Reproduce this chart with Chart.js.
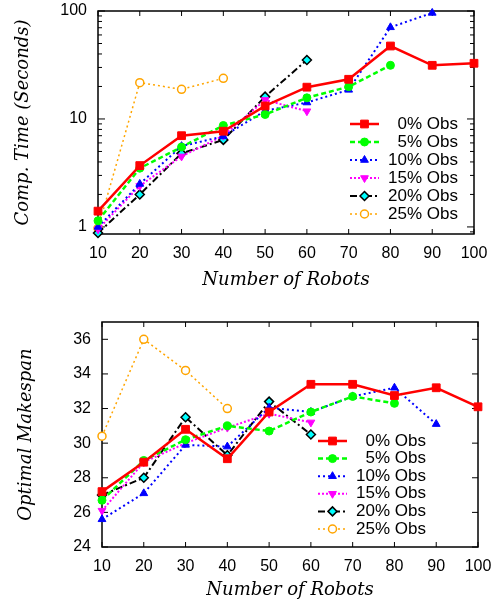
<!DOCTYPE html>
<html>
<head>
<meta charset="utf-8">
<script src="https://cdn.jsdelivr.net/npm/chart.js@4.4.0/dist/chart.umd.min.js"></script>
<style>
  html, body { margin:0; padding:0; background:#fff; }
  canvas { display:block; }
</style>
</head>
<body>
<canvas id="timeChart" width="502" height="300"></canvas>
<canvas id="spanChart" width="502" height="303"></canvas>
<script>
const robots = [10, 20, 30, 40, 50, 60, 70, 80, 90, 100];
const seriesNames = ['0% Obs', '5% Obs', '10% Obs', '15% Obs', '20% Obs', '25% Obs'];

// computation time in seconds (log axis)
const time0  = [1.4, 3.7, 7.0, 7.7, 13.2, 19.7, 23.3, 47.4, 31.4, 32.8];
const time5  = [1.14, 3.5, 5.5, 8.7, 11.0, 15.7, 19.9, 31.4];
const time10 = [1.0, 2.5, 5.6, 6.9, 11.9, 14.2, 18.6, 70.6, 96];
const time15 = [0.95, 2.4, 4.5, 7.0, 15.0, 11.8];
const time20 = [0.88, 2.0, 4.8, 6.4, 16.1, 35.2];
const time25 = [0.97, 21.7, 18.8, 23.8];
const timeLabels = [1, 10, 100];
const timeMinor = [0.9, 2, 3, 4, 5, 6, 7, 8, 9, 20, 30, 40, 50, 60, 70, 80, 90];

// optimal makespan
const span0  = [27.2, 28.9, 30.8, 29.1, 31.8, 33.4, 33.4, 32.75, 33.2, 32.1];
const span5  = [26.7, 29.0, 30.2, 31.0, 30.7, 31.8, 32.7, 32.3];
const span10 = [25.6, 27.1, 29.9, 29.8, 32.05, 31.8, 32.7, 33.2, 31.1];
const span15 = [26.1, 28.9, 30.0, 30.9, 31.7, 31.2];
const span20 = [27.0, 28.0, 31.5, 29.3, 32.4, 30.5];
const span25 = [30.4, 36.0, 34.2, 32.0];
const spanLabels = [24, 26, 28, 30, 32, 34, 36];

const looks = [
  {color:'#ff0000', fill:'#ff0000', dash:[],        point:'rect',     rot:0,   r:5.5, w:2.5, pb:1},
  {color:'#00ff00', fill:'#00ff00', dash:[5,3],     point:'circle',   rot:0,   r:4,   w:2.5, pb:1},
  {color:'#0000ff', fill:'#0000ff', dash:[2,3],     point:'triangle', rot:0,   r:4.5, w:2,   pb:1},
  {color:'#ff00ff', fill:'#ff00ff', dash:[2,2],     point:'triangle', rot:180, r:4.5, w:2,   pb:1},
  {color:'#000000', fill:'#00ffff', dash:[7,3,2,3], point:'rectRot',  rot:0,   r:4.5, w:2,   pb:1.5},
  {color:'#ffa500', fill:'#ffffff', dash:[2,3],     point:'circle',   rot:0,   r:4,   w:1.5, pb:1.5}
];

const tickFont = {family:'"Liberation Sans", Arial, sans-serif', size:16};
const titleFont = {family:'"DejaVu Serif", serif', style:'italic', size:18};

function makeSets(list) {
  return list.map((vals, i) => {
    let lk = looks[i];
    return {
      label: seriesNames[i],
      data: vals.map((v, j) => ({x: robots[j], y: v})),
      borderColor: lk.color,
      borderWidth: lk.w,
      borderDash: lk.dash,
      pointStyle: lk.point,
      pointRotation: lk.rot,
      pointRadius: lk.r,
      pointBackgroundColor: lk.fill,
      pointBorderColor: lk.color,
      pointBorderWidth: lk.pb,
      tension: 0,
      clip: false
    };
  });
}

// frame round the plot and gnuplot style ticks pointing inwards
const frameTicks = {
  id: 'frameTicks',
  beforeDatasetsDraw(chart, args, opts) {
    const {ctx, chartArea: a, scales} = chart;
    ctx.save();
    ctx.strokeStyle = '#000';
    ctx.lineWidth = 1;
    ctx.beginPath();
    scales.x.ticks.forEach(t => {
      const px = scales.x.getPixelForValue(t.value);
      ctx.moveTo(px, a.bottom); ctx.lineTo(px, a.bottom - opts.xLen);
      ctx.moveTo(px, a.top); ctx.lineTo(px, a.top + opts.xLen);
    });
    scales.y.ticks.forEach(t => {
      const py = scales.y.getPixelForValue(t.value);
      const len = t.label ? opts.yLen : opts.yMinor;
      ctx.moveTo(a.left, py); ctx.lineTo(a.left + len, py);
      ctx.moveTo(a.right, py); ctx.lineTo(a.right - len, py);
    });
    ctx.stroke();
    ctx.lineWidth = 1.5;
    ctx.strokeRect(a.left, a.top, a.width, a.height);
    ctx.restore();
  }
};

// legend inside the plot, line sample with marker, text aligned right
const insideLegend = {
  id: 'insideLegend',
  afterDatasetsDraw(chart, args, opts) {
    const {ctx, chartArea} = chart;
    ctx.save();
    ctx.font = '17px "Liberation Sans", Arial, sans-serif';
    ctx.textAlign = 'right';
    ctx.textBaseline = 'middle';
    chart.data.datasets.forEach((ds, i) => {
      const y = chartArea.top + opts.top + i * opts.step;
      const x0 = chartArea.right - opts.lineFrom;
      const x1 = chartArea.right - opts.lineTo;
      ctx.strokeStyle = ds.borderColor;
      ctx.lineWidth = ds.borderWidth;
      ctx.setLineDash(ds.borderDash);
      ctx.beginPath(); ctx.moveTo(x0, y); ctx.lineTo(x1, y); ctx.stroke();
      ctx.setLineDash([]);
      ctx.fillStyle = ds.pointBackgroundColor;
      ctx.strokeStyle = ds.pointBorderColor;
      ctx.lineWidth = ds.pointBorderWidth;
      Chart.helpers.drawPoint(ctx, {pointStyle: ds.pointStyle, rotation: ds.pointRotation,
        radius: ds.pointRadius, borderWidth: ds.pointBorderWidth}, (x0 + x1) / 2, y);
      ctx.fillStyle = '#000';
      ctx.fillText(ds.label, chartArea.right - opts.textRight, y);
    });
    ctx.restore();
  }
};

function xScale(h, pad, titlePad) {
  return {
    type: 'linear', min: 10, max: 100,
    afterBuildTicks: s => { s.ticks = robots.map(v => ({value: v})); },
    afterFit: s => { s.height = h; },
    grid: {display: false, drawTicks: false},
    border: {display: false},
    ticks: {font: tickFont, color: '#000', padding: pad, maxRotation: 0, autoSkip: false},
    title: {display: true, text: 'Number of Robots', font: titleFont, color: '#000',
            padding: {top: 0, bottom: titlePad}}
  };
}

new Chart(document.getElementById('timeChart'), {
  type: 'line',
  data: {datasets: makeSets([time0, time5, time10, time15, time20, time25])},
  options: {
    responsive: false,
    animation: false,
    layout: {padding: {top: 11, right: 28, bottom: 0, left: 0}},
    plugins: {
      legend: {display: false},
      tooltip: {enabled: false},
      frameTicks: {xLen: 5, yLen: 7, yMinor: 4},
      insideLegend: {top: 113, step: 18, lineFrom: 124, lineTo: 95, textRight: 16}
    },
    scales: {
      x: xScale(66, 10, 9),
      y: {
        type: 'logarithmic', min: 0.86, max: 100,
        afterBuildTicks: s => {
          s.ticks = timeLabels.concat(timeMinor).sort((a, b) => a - b).map(v => ({value: v}));
        },
        afterFit: s => { s.width = 98; },
        grid: {display: false, drawTicks: true, tickLength: 11},
        border: {display: false},
        ticks: {font: tickFont, color: '#000', padding: 0, autoSkip: false,
                callback: v => timeLabels.includes(v) ? String(v) : ''},
        title: {display: true, text: 'Comp. Time (Seconds)', font: titleFont, color: '#000',
                padding: {top: 13, bottom: 0}}
      }
    }
  },
  plugins: [frameTicks, insideLegend]
});

new Chart(document.getElementById('spanChart'), {
  type: 'line',
  data: {datasets: makeSets([span0, span5, span10, span15, span20, span25])},
  options: {
    responsive: false,
    animation: false,
    layout: {padding: {top: 22, right: 24, bottom: 0, left: 0}},
    plugins: {
      legend: {display: false},
      tooltip: {enabled: false},
      frameTicks: {xLen: 5, yLen: 6, yMinor: 6},
      insideLegend: {top: 119, step: 17.6, lineFrom: 160, lineTo: 131, textRight: 52}
    },
    scales: {
      x: xScale(56, 10, 2),
      y: {
        type: 'linear', min: 24, max: 37,
        afterBuildTicks: s => { s.ticks = spanLabels.map(v => ({value: v})); },
        afterFit: s => { s.width = 102; },
        grid: {display: false, drawTicks: true, tickLength: 11},
        border: {display: false},
        ticks: {font: tickFont, color: '#000', padding: 0, autoSkip: false},
        title: {display: true, text: 'Optimal Makespan', font: titleFont, color: '#000',
                padding: {top: 16, bottom: 0}}
      }
    }
  },
  plugins: [frameTicks, insideLegend]
});
</script>
</body>
</html>
